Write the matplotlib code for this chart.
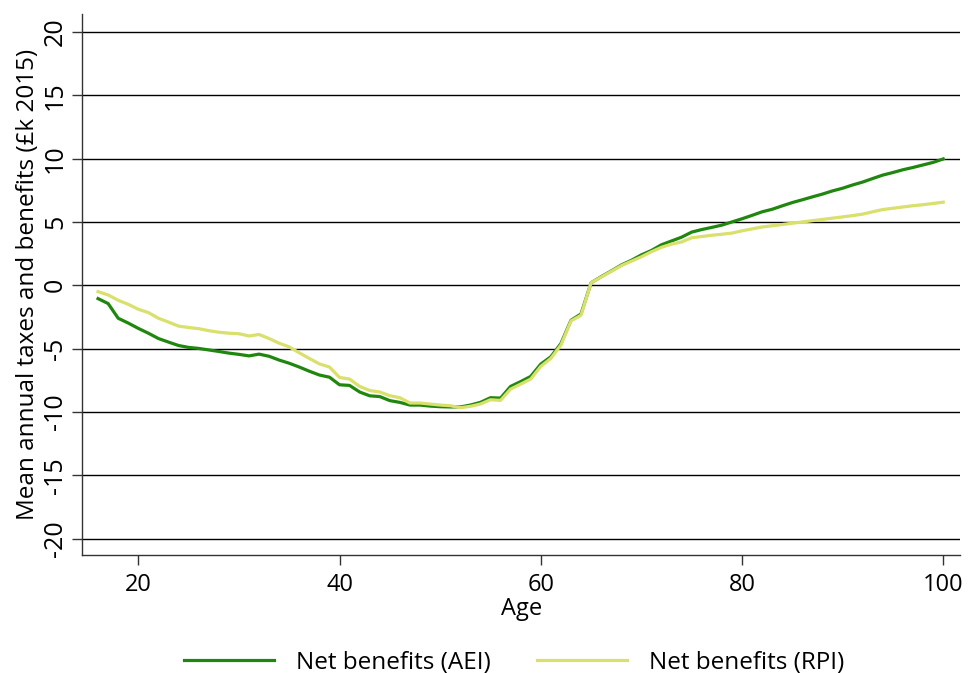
import matplotlib
matplotlib.use("Agg")
import matplotlib.pyplot as plt
import numpy as np

plt.rcParams['font.family'] = ['Open Sans', 'DejaVu Sans']

ages = list(range(16, 101))
aei = [-1.05, -1.44, -2.6, -2.98, -3.4, -3.78, -4.2, -4.48, -4.75, -4.9,
       -4.98, -5.1, -5.22, -5.35, -5.45, -5.57, -5.43, -5.6, -5.9, -6.15,
       -6.45, -6.78, -7.08, -7.25, -7.85, -7.9, -8.42, -8.72, -8.78, -9.1,
       -9.24, -9.45, -9.45, -9.53, -9.58, -9.6, -9.6, -9.45, -9.24, -8.87,
       -8.9, -7.98, -7.6, -7.19, -6.22, -5.64, -4.6, -2.76, -2.26, 0.2,
       0.68, 1.13, 1.6, 1.97, 2.4, 2.75, 3.2, 3.5, 3.8, 4.2,
       4.4, 4.57, 4.75, 5.0, 5.25, 5.52, 5.8, 6.0, 6.27, 6.53,
       6.75, 6.98, 7.2, 7.45, 7.66, 7.92, 8.15, 8.43, 8.7, 8.9,
       9.12, 9.3, 9.5, 9.7, 9.97]
rpi = [-0.5, -0.76, -1.18, -1.5, -1.89, -2.15, -2.6, -2.9, -3.22, -3.33,
       -3.42, -3.58, -3.7, -3.78, -3.82, -4.0, -3.88, -4.2, -4.57, -4.86,
       -5.33, -5.77, -6.2, -6.45, -7.27, -7.4, -7.98, -8.3, -8.42, -8.71,
       -8.87, -9.29, -9.29, -9.37, -9.45, -9.5, -9.66, -9.55, -9.37, -9.03,
       -9.08, -8.19, -7.8, -7.4, -6.4, -5.77, -4.72, -2.81, -2.36, 0.2,
       0.65, 1.1, 1.55, 1.9, 2.25, 2.65, 3.0, 3.25, 3.42, 3.75,
       3.85, 3.95, 4.03, 4.12, 4.3, 4.45, 4.6, 4.7, 4.8, 4.9,
       5.0, 5.1, 5.2, 5.3, 5.4, 5.5, 5.62, 5.8, 5.98, 6.08,
       6.18, 6.28, 6.36, 6.46, 6.56]
series_labels = ["Net benefits (AEI)", "Net benefits (RPI)"]
xticks = [20, 40, 60, 80, 100]
yticks = [-20, -15, -10, -5, 0, 5, 10, 15, 20]

fig = plt.figure(figsize=(9.7, 6.73), dpi=100)
ax = fig.add_axes([0.0845, 0.175, 0.9055, 0.804])

for y in yticks:
    ax.axhline(y, color='black', lw=1.0, zorder=1)

ax.plot(ages, aei, color='#1f870d', lw=2.3, label=series_labels[0], zorder=3)
ax.plot(ages, rpi, color='#d9e06b', lw=2.3, label=series_labels[1], zorder=4)

ax.set_xlim(14.4, 101.7)
ax.set_ylim(-21.3, 21.4)
ax.set_xticks(xticks)
ax.set_yticks(yticks)
ax.set_yticklabels([str(v) for v in yticks], rotation=90, va='center')
ax.tick_params(axis='both', direction='out', length=7, width=1, color='#333333')
ax.tick_params(axis='x', pad=6, labelsize=17)
ax.tick_params(axis='y', pad=3, labelsize=18)
for s in ['top', 'right']:
    ax.spines[s].set_visible(False)
for s in ['left', 'bottom']:
    ax.spines[s].set_color('#333333')
    ax.spines[s].set_linewidth(1.0)

ax.set_xlabel("Age", fontsize=17, labelpad=0)
ax.set_ylabel("Mean annual taxes and benefits (£k 2015)", fontsize=17.5, labelpad=2)

fig.legend(loc='lower center', bbox_to_anchor=(0.53, -0.035), ncol=2, frameon=False,
           fontsize=17.5, handlelength=3.7, columnspacing=1.9, handletextpad=0.9)

fig.savefig("out.png", dpi=100)
